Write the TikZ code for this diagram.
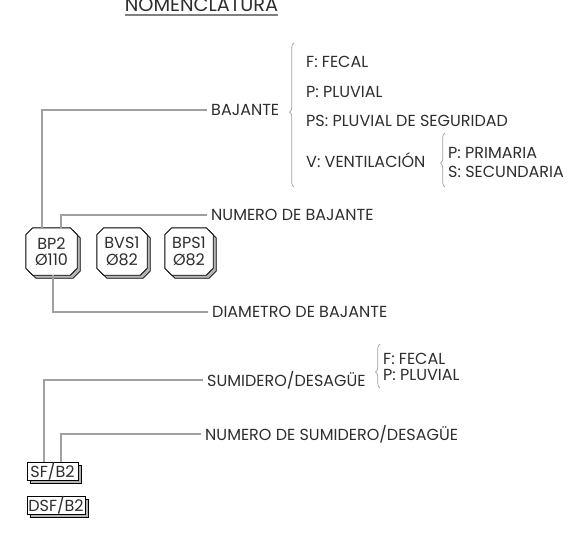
\documentclass[tikz,border=0pt]{standalone}
\usepackage{fontspec}
\setmainfont{Poppins}
\usetikzlibrary{shadows,decorations.pathreplacing,backgrounds}
\definecolor{txt}{HTML}{2E2E2E}
\definecolor{lead}{HTML}{A0A0A0}
\definecolor{shad}{HTML}{B4B4B4}
\newcommand\octa[3]{([xshift=#2+7pt,yshift=#3]#1.north west) -- ([xshift=#2-7pt,yshift=#3]#1.north east) -- ([xshift=#2,yshift=#3-7pt]#1.north east) -- ([xshift=#2,yshift=#3+7pt]#1.south east) -- ([xshift=#2-7pt,yshift=#3]#1.south east) -- ([xshift=#2+7pt,yshift=#3]#1.south west) -- ([xshift=#2,yshift=#3+7pt]#1.south west) -- ([xshift=#2,yshift=#3-7pt]#1.north west) -- cycle}
\begin{document}
\begin{tikzpicture}[x=1pt,y=-1pt,
  lbl/.style={anchor=west,inner xsep=4pt,inner ysep=0pt,text=txt,font=\fontsize{16}{18}\selectfont},
  item/.style={anchor=west,inner sep=0pt,text=txt,font=\fontsize{16}{18}\selectfont},
  leader/.style={draw=lead,line width=1.2pt},
  bracestyle/.style={draw=lead,line width=0.7pt,decorate,decoration={brace,amplitude=4.5pt,aspect=#1}},
  octnode/.style={rectangle,inner sep=0pt,minimum height=47pt,align=center,text=txt,font=\fontsize{16}{16.5}\selectfont},
  recbox/.style={rectangle,draw=black,line width=0.9pt,fill=white,inner xsep=0pt,inner ysep=0pt,minimum height=17pt,text=txt,font=\fontsize{16}{18}\selectfont,
    general shadow={shadow xshift=3pt,shadow yshift=-3pt,fill=shad,draw=black,line width=0.7pt}},
  octshadow/.style={fill=shad,draw=black,line width=0.7pt},
  octmain/.style={fill=white,draw=black,line width=0.9pt}]
\useasboundingbox (0,0) rectangle (588,541);

% title
\node[anchor=base,inner sep=0pt,text=txt,font=\fontsize{19.3}{21}\selectfont] (title) at (201.5,11) {NOMENCLATURA};
\draw[draw=gray,line width=1.8pt] ([yshift=-4pt]title.base west) -- ([yshift=-4pt]title.base east);

% bajante boxes
\node[octnode,minimum width=51pt] (bp2) at (51.5,251.5) {BP2\\Ø110};
\node[octnode,minimum width=50pt] (bvs1) at (122,251.5) {BVS1\\Ø82};
\node[octnode,minimum width=48pt] (bps1) at (189,251.5) {BPS1\\Ø82};
\begin{scope}[on background layer]
  \foreach \n in {bp2,bvs1,bps1}{
    \path[octshadow] \octa{\n}{3pt}{-3pt};
    \path[octmain] \octa{\n}{0pt}{0pt};
  }
\end{scope}

% labels
\node[lbl] (baj) at (207,110) {BAJANTE};
\node[lbl] (numb) at (207,215) {NUMERO DE BAJANTE};
\node[lbl] (diam) at (208,312) {DIAMETRO DE BAJANTE};

\draw[leader] (baj.west) -| ([xshift=-9.5pt]bp2.north);
\draw[leader] (numb.west) -| ([xshift=9.5pt]bp2.north);
\draw[leader] (diam.west) -| ([xshift=1.5pt]bp2.south);

% big brace
\draw[bracestyle=0.52] (294,187) -- (294,43);
\node[item] (f) at (306,62) {F: FECAL};
\node[item] (p) at (306,92) {P: PLUVIAL};
\node[item] (ps) at (306,121) {PS: PLUVIAL DE SEGURIDAD};
\node[item] (v) at (306,160) {V: VENTILACIÓN};
\draw[bracestyle=0.44] (445,187) -- (445,133);
\node[item] (vp) at (448,153) {P: PRIMARIA};
\node[item] (vs) at (448,172) {S: SECUNDARIA};

% sumidero
\node[recbox,minimum width=51pt] (sf) at (52.5,471.5) {SF/B2};
\node[recbox,minimum width=58pt] (dsf) at (56,505.5) {DSF/B2};
\node[lbl] (sum) at (203,380) {SUMIDERO/DESAGÜE};
\node[lbl] (nums) at (201,434) {NUMERO DE SUMIDERO/DESAGÜE};
\draw[leader] (sum.west) -| ([xshift=-8.5pt]sf.north);
\draw[leader] (nums.west) -| ([xshift=8.5pt]sf.north);
\draw[bracestyle=0.36] (380,388) -- (380,344);
\node[item] (sff) at (383,359) {F: FECAL};
\node[item] (sfp) at (383,375) {P: PLUVIAL};
\end{tikzpicture}
\end{document}
